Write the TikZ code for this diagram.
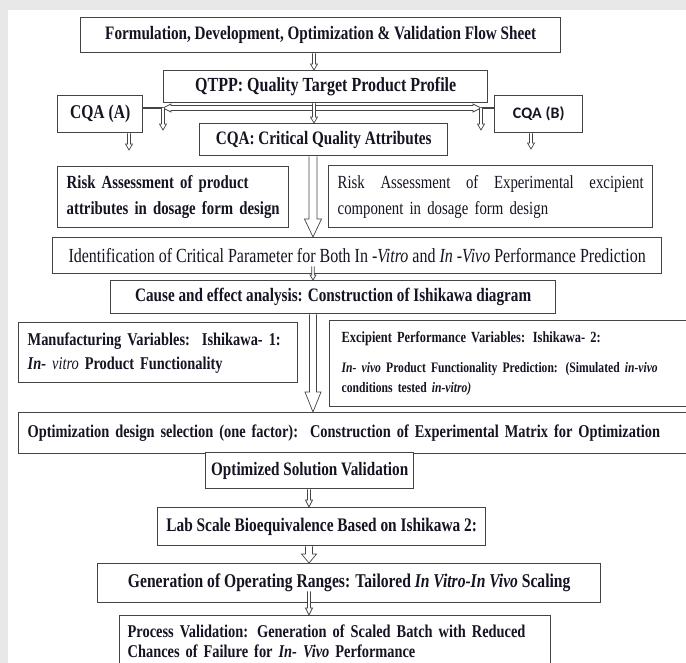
\documentclass[tikz,border=0pt]{standalone}
\usepackage{fontspec}
\setmainfont{Liberation Serif}[FakeStretch=0.8]
\newfontfamily\carlito{Carlito}
\usetikzlibrary{calc}
\definecolor{bggray}{RGB}{232,232,232}
\definecolor{boxline}{RGB}{68,68,68}
\definecolor{txt}{RGB}{20,20,34}
\tikzset{
  box/.style={draw=boxline, line width=1.4pt, fill=white, text=txt, inner sep=0pt,
    anchor=north west, font=\fontsize{19}{24}\selectfont\bfseries},
  lbox/.style={box, align=left, inner xsep=9pt},
  hol/.style={draw=boxline, line width=0.7pt, fill=white},
  varrow/.style n args={3}{hol, to path={let \p1=(\tikztostart), \p2=(\tikztotarget) in
    (\x1-#1,\y1) -- (\x1-#1,\y2+#3) -- (\x1-#2,\y2+#3) -- (\x1,\y2) --
    (\x1+#2,\y2+#3) -- (\x1+#1,\y2+#3) -- (\x1+#1,\y1)}},
  larrow/.style n args={3}{hol, to path={let \p1=(\tikztostart), \p2=(\tikztotarget) in
    (\x1,\y1-#1) -- (\x2+#3,\y1-#1) -- (\x2+#3,\y1-#2) -- (\x2,\y1) --
    (\x2+#3,\y1+#2) -- (\x2+#3,\y1+#1) -- (\x1,\y1+#1)}},
  rarrow/.style n args={3}{hol, to path={let \p1=(\tikztostart), \p2=(\tikztotarget) in
    (\x1,\y1-#1) -- (\x2-#3,\y1-#1) -- (\x2-#3,\y1-#2) -- (\x2,\y1) --
    (\x2-#3,\y1+#2) -- (\x2-#3,\y1+#1) -- (\x1,\y1+#1)}},
  thickconn/.style={draw=boxline, line width=2.6pt},
}
\begin{document}
\begin{tikzpicture}[x=1pt,y=-1pt]
\useasboundingbox (0,0) rectangle (686,663);
\clip (0,0) rectangle (686,663);
\fill[bggray] (0,0) rectangle (686,663);
\fill[white] (8,10) rectangle (686,663);

% boxes
\node[box, minimum width=480pt, minimum height=35pt] (title) at (80,17)
  {Formulation, Development, Optimization \& Validation Flow Sheet};
\node[box, minimum width=324pt, minimum height=32pt, font=\fontsize{20}{24}\selectfont\bfseries] (qtpp) at (163,70)
  {QTPP: Quality Target Product Profile};
\node[box, minimum width=85pt, minimum height=37pt, font=\fontsize{19.5}{24}\selectfont\bfseries] (cqaA) at (57,95) {CQA (A)};
\node[box, minimum width=88pt, minimum height=37pt, font=\fontsize{16}{18}\carlito\bfseries] (cqaB) at (494,95) {CQA (B)};
\node[box, minimum width=248pt, minimum height=32pt] (cqa) at (199,123)
  {CQA: Critical Quality Attributes};
\node[lbox, text width=213pt, minimum height=61pt, font=\fontsize{18.5}{26}\selectfont\bfseries] (riskL) at (57,166)
  {Risk Assessment of product\\attributes in dosage form design};
\node[lbox, text width=306pt, minimum height=62pt, font=\fontsize{18.5}{26}\selectfont] (riskR) at (328,165)
  {Risk\hfill Assessment\hfill of\hfill Experimental\hfill excipient\\component in dosage form design};
\node[box, minimum width=609pt, minimum height=36pt, font=\fontsize{20}{24}\selectfont] (ident) at (52,237)
  {Identification of Critical Parameter for Both In -\textit{Vitro} and \textit{In -Vivo} Performance Prediction};
\node[box, minimum width=445pt, minimum height=33pt] (cause) at (110,280)
  {Cause and effect analysis: Construction of Ishikawa diagram};
\node[lbox, text width=261pt, minimum height=60pt, font=\fontsize{18}{24}\selectfont\bfseries] (manu) at (18,322)
  {Manufacturing Variables:\ \ Ishikawa- 1:\\\textit{In-} {\mdseries\textit{vitro}} Product Functionality};
\node[lbox, inner xsep=12pt, text width=337pt, minimum height=86pt, font=\fontsize{15.5}{20}\selectfont\bfseries] (exc) at (329,320)
  {Excipient Performance Variables: Ishikawa- 2:\\[10pt]
   {\fontsize{14.5}{20}\selectfont\textit{In- vivo} Product Functionality Prediction: (Simulated \textit{in-vivo}\\conditions tested \textit{in-vitro)}}};
\node[lbox, text width=654pt, minimum height=41pt, font=\fontsize{18}{24}\selectfont\bfseries] (opt) at (18,412)
  {Optimization design selection (one factor):\ \ Construction of Experimental Matrix for Optimization};
\node[box, minimum width=208pt, minimum height=36pt] (optsol) at (205,452)
  {Optimized Solution Validation};
\node[box, minimum width=328pt, minimum height=38pt, font=\fontsize{19.2}{24}\selectfont\bfseries] (lab) at (157,507)
  {Lab Scale Bioequivalence Based on Ishikawa 2:};
\node[box, minimum width=503pt, minimum height=39pt, font=\fontsize{19.5}{24}\selectfont\bfseries] (gen) at (97,563)
  {Generation of Operating Ranges: Tailored \textit{In Vitro-In Vivo} Scaling};
\node[lbox, inner xsep=8pt, text width=415pt, minimum height=52pt, font=\fontsize{18}{20}\selectfont\bfseries] (proc) at (119,615)
  {Process Validation: Generation of Scaled Batch with Reduced\\Chances of Failure for \textit{In- Vivo} Performance};

% axis coordinates and free ends
\coordinate (ax) at (314,0);
\coordinate (bx) at (313,0);
\coordinate (cx) at (309,0);
\coordinate (jl) at (163,108);
\coordinate (jr) at (481,108);
\coordinate (jc) at (314,108);
\coordinate (dl) at (163,130);
\coordinate (dr) at (481,130);
\coordinate (ea) at (129,150);
\coordinate (eb) at (531,149);

% connectors
\draw[varrow={1.5pt}{3.5pt}{6pt}] (title.south -| ax) to (qtpp.north -| ax);
\draw[thickconn] (cqaA.east |- jl) -- (jl);
\draw[thickconn] (jr) -- (cqaB.west |- jr);
\draw[larrow={2.5pt}{4pt}{8pt}] (jc) to (jl);
\draw[rarrow={2.5pt}{4pt}{8pt}] (jc) to (jr);
\draw[varrow={1.5pt}{3.5pt}{6pt}] (qtpp.south -| ax) to (cqa.north -| ax);
\draw[varrow={1.5pt}{3.5pt}{6pt}] (jl) to (dl);
\draw[varrow={1.5pt}{3.5pt}{6pt}] (jr) to (dr);
\draw[varrow={1.5pt}{3.5pt}{6pt}] (cqaA.south -| ea) to (ea);
\draw[varrow={1.5pt}{3.5pt}{6pt}] (cqaB.south -| eb) to (eb);
\draw[varrow={4pt}{8.5pt}{18pt}] (cqa.south -| bx) to (ident.north -| bx);
\draw[varrow={1.2pt}{3pt}{5pt}] ([yshift=8pt]ident.south -| bx) to (cause.north -| bx);
\draw[varrow={3.5pt}{8pt}{20pt}] (cause.south -| bx) to (opt.north -| bx);
\draw[varrow={1.5pt}{3.5pt}{7pt}] (optsol.south -| cx) to (lab.north -| cx);
\draw[varrow={3.5pt}{7.5pt}{9pt}] (lab.south -| cx) to (gen.north -| cx);
\draw[varrow={1.5pt}{3.5pt}{7pt}] ([yshift=12pt]gen.south -| cx) to (proc.north -| cx);
\end{tikzpicture}
\end{document}
